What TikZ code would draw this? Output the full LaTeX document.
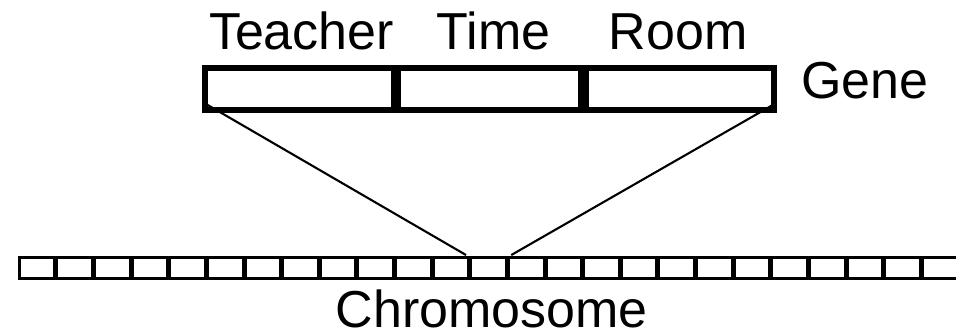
\documentclass[tikz,border=0pt]{standalone}
\usepackage{fontspec}
\setmainfont{Liberation Sans}
\usetikzlibrary{calc}

\tikzset{
  genebox/.style={draw=black, line width=5.5pt, rectangle, inner sep=0pt,
                  minimum height=42pt, fill=white},
  chromocell/.style={draw=black, line width=3.3pt, rectangle, inner sep=0pt,
                     minimum width=35.9pt, minimum height=21pt, fill=white},
  label/.style={inner sep=0pt, anchor=base, font=\fontsize{52}{60}\selectfont},
  link/.style={draw=black, line width=2.1pt}
}

\begin{document}
\begin{tikzpicture}[x=1pt, y=1pt]
  \useasboundingbox (0,0) rectangle (956,336);

  % the gene: three adjacent fields
  \node[genebox, minimum width=188.7pt] (gt) at (299.15,247) {};
  \node[genebox, minimum width=182.3pt] (gm) at (489.65,247) {};
  \node[genebox, minimum width=188.4pt] (gr) at (680.0,247) {};

  \node[label] (lteacher) at (301.5,286) {Teacher};
  \node[label] (ltime)    at (493.7,286) {Time};
  \node[label] (lroom)    at (678.0,286) {Room};
  \node[label] (lgene)    at (865.0,237) {Gene};

  % the chromosome: a row of cells running off the right edge
  \begin{scope}
    \clip (0,0) rectangle (956,336);
    \foreach \i in {0,...,24} {
      \node[chromocell] (c\i) at ({19.2+17.95+37.625*\i},67.8) {};
    }
  \end{scope}

  \node[label] (lchromo) at (491.7,8) {Chromosome};

  % the gene maps onto one cell of the chromosome
  \coordinate (gl) at ($(gt.south west)+(5.2,8)$);
  \coordinate (gg) at ($(gr.south east)+(-5,7.3)$);
  \draw[link] (gl) -- ([xshift=-3pt,yshift=1pt]c12.north west);
  \draw[link] (gg) -- ([xshift=3pt,yshift=1pt]c12.north east);
\end{tikzpicture}
\end{document}
